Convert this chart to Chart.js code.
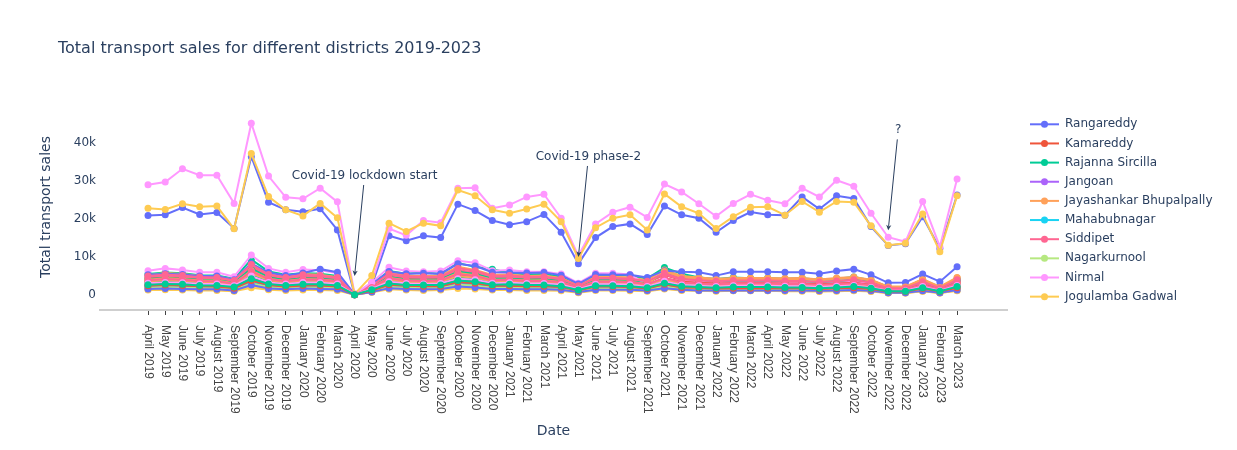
<!DOCTYPE html>
<html>
<head>
<meta charset="utf-8">
<script src="https://cdn.jsdelivr.net/npm/chart.js@4.4.1/dist/chart.umd.min.js"></script>
<style>
html,body{margin:0;padding:0;background:#fff;}
#wrap{position:relative;width:1237px;height:450px;}
</style>
</head>
<body>
<div id="wrap"><canvas id="c"></canvas></div>
<script>
const chartTitle = 'Total transport sales for different districts 2019-2023';
const xTitle = 'Date';
const yTitle = 'Total transport sales';

const months = ['April 2019','May 2019','June 2019','July 2019','August 2019','September 2019','October 2019','November 2019','December 2019','January 2020','February 2020','March 2020',
'April 2020','May 2020','June 2020','July 2020','August 2020','September 2020','October 2020','November 2020','December 2020','January 2021','February 2021','March 2021',
'April 2021','May 2021','June 2021','July 2021','August 2021','September 2021','October 2021','November 2021','December 2021','January 2022','February 2022','March 2022',
'April 2022','May 2022','June 2022','July 2022','August 2022','September 2022','October 2022','November 2022','December 2022','January 2023','February 2023','March 2023'];

const districts = ['Rangareddy','Kamareddy','Rajanna Sircilla','Jangoan','Jayashankar Bhupalpally','Mahabubnagar','Siddipet','Nagarkurnool','Nirmal','Jogulamba Gadwal',
'Hanumakonda','Karimnagar','Khammam','Medak','Mancherial','Nalgonda','Nizamabad','Suryapet','Hyderabad','Medchal-Malkajgiri',
'Sangareddy','Vikarabad','Warangal','Wanaparthy','Peddapalli','Mulugu','Jagtial','Narayanpet','Adilabad','Mahabubabad',
'Kumuram Bheem Asifabad','Bhadradri Kothagudem','Yadadri Bhuvanagiri'];

const rangareddy = [20900,21100,23000,21200,21700,17500,36400,24400,22400,21900,22700,17100,
 100,2500,15600,14300,15600,15100,23900,22200,19600,18500,19300,21200,
 16500,8200,15100,18000,18700,15900,23400,21100,20200,16500,19600,21800,
 21100,21000,25800,22600,26100,25400,18000,13000,13500,20600,12200,26300];
const kamareddy = [4500,4900,4600,4200,4300,3400,7200,4800,4100,4700,4500,4200,
 150,2300,5000,4300,4300,4400,6200,5700,4400,4600,4300,4400,
 3800,2100,4000,4100,3900,3300,5300,3900,3500,3200,3400,3500,
 3400,3300,3400,3100,3300,3600,3000,1600,1700,3100,1600,3600];
const rajannaSircilla = [5500,5900,5700,5200,5100,4300,9300,6200,5300,5800,5600,5000,
 200,2800,6300,5600,5900,5500,8400,7400,6800,5800,5400,5500,
 4800,2600,5300,5200,5100,4300,7200,5600,4600,4200,4600,4400,
 4500,4300,4400,4000,4300,4700,3900,2100,2000,4100,2000,4200];
const jangoan = [3000,3200,3100,2800,2800,2300,4700,3200,2800,3100,3100,2800,
 100,1500,3300,2900,2800,2900,4200,3800,3000,3000,2900,2900,
 2600,1400,2700,2700,2600,2200,3400,2500,2300,2100,2300,2300,
 2200,2200,2200,2000,2200,2400,2000,1100,1100,2100,1100,2400];
const jayashankarBhupalpally = [5200,5800,5500,5000,4900,4000,8000,5600,4900,5500,5300,4700,
 150,2600,5900,5100,5000,5100,7400,6600,5300,5400,5000,5100,
 4500,2500,4800,4800,4600,3900,6600,5000,4600,4300,4500,4500,
 4500,4400,4500,4100,4500,4700,4000,2200,2200,4200,2200,4600];
const mahabubnagar = [3300,3500,3400,3100,3100,2500,5300,3600,3100,3500,3400,3000,
 100,1700,3700,3200,3100,3200,4600,4200,3300,3400,3200,3200,
 2800,1600,3000,3000,2800,2400,3800,2800,2600,2400,2500,2500,
 2500,2400,2400,2200,2400,2600,2200,1200,1200,2300,1200,2600];
const siddipet = [4700,5000,4800,4400,4400,3600,7600,5100,4400,4900,4800,4300,
 150,2300,5200,4600,4500,4600,6500,6000,4700,4800,4500,4600,
 4000,2200,4200,4200,4000,3400,5400,4000,3700,3400,3600,3600,
 3600,3500,3500,3200,3500,3800,3100,1700,1700,3300,1700,3800];
const nagarkurnool = [3000,3200,3100,2900,2800,2300,4900,3300,2800,3200,3100,2800,
 100,1500,3400,3000,2900,3000,4200,3900,3000,3100,2900,2900,
 2600,1500,2800,2800,2700,2300,3600,3100,3000,2800,3000,3000,
 3100,3000,3000,2800,2900,3100,2600,1300,1300,2600,1300,2800];
const nirmal = [6400,7000,6600,6000,6000,4800,10500,7000,6000,6700,6500,5800,
 200,3200,7300,6300,6100,6300,9000,8500,6400,6600,6100,6100,
 5500,3100,5700,5700,5400,2600,4300,3600,3400,3200,3300,3300,
 3300,3200,3200,3000,3200,3400,2900,1600,1600,3000,1500,3200];
const jogulambaGadwal = [1300,1400,1300,1200,1200,1000,1900,1400,1200,1300,1300,1200,
 50,700,1500,1300,1200,1300,1700,1600,1300,1300,1200,1200,
 1100,600,1200,1200,1100,1000,1600,1200,1100,1000,1100,1100,
 1100,1000,1000,900,1000,1100,900,500,500,1000,500,1100];
const hanumakonda = [5300,5600,5400,5000,5000,4000,8300,5900,5100,5800,6800,6000,
 150,2800,6200,5600,5700,5600,8200,7600,6000,5900,5800,5900,
 5200,2900,5400,5300,5300,4600,6400,6100,6000,5100,6100,6100,
 6100,6000,6000,5600,6300,6800,5300,3200,3300,5500,3500,7400];
const karimnagar = [3800,4100,3900,3600,3500,2900,6100,4100,3500,4000,3900,3500,
 100,1900,4300,3700,3600,3700,5300,4900,3800,3900,3600,3600,
 3300,1800,3400,3400,3300,2700,4400,3500,3200,3000,3100,3100,
 3100,3000,3000,2800,3000,3200,2700,1500,1500,2800,1500,3200];
const khammam = [4200,4500,4300,4000,3900,3200,6900,4600,3900,4400,4300,3900,
 100,2100,4700,4100,4000,4100,6100,5500,4300,4300,4000,4100,
 3600,2000,3800,3800,3600,3100,6000,4500,4000,3700,3800,3800,
 3800,3700,3700,3400,3700,4100,3400,1800,1800,3600,1800,4000];
const medak = [2100,2300,2200,2000,2000,1600,3400,2300,2000,2200,2200,1900,
 80,1000,2400,2100,2000,2000,2900,2700,2100,2100,2000,2000,
 1800,1000,1900,1900,1800,1500,2400,1800,1600,1500,1600,1600,
 1600,1600,1600,1400,1600,1700,1400,800,800,1500,800,1700];
const mancherial = [4000,4400,4200,3800,3800,3100,6400,4300,3700,4200,4100,3700,
 100,2000,4500,3900,3800,3900,5800,5200,4000,4100,3800,3900,
 3400,1900,3600,3600,3500,2900,6200,4600,4300,4000,4200,4300,
 4200,4200,4300,3900,4300,4500,3800,2100,2100,4000,2000,4500];
const nalgonda = [2500,2700,2600,2400,2300,1900,4000,2700,2300,2600,2600,2300,
 80,1300,2800,2400,2400,2400,3500,3200,2500,2600,2400,2400,
 2200,1200,2300,2300,2200,1800,2900,2100,2000,1800,1900,1900,
 1900,1900,1900,1700,1900,2000,1700,900,900,1800,900,2000];
const nizamabad = [5000,5400,5100,4700,4600,3800,8000,5400,4600,5300,5100,4600,
 150,2500,5600,4900,4800,4800,7000,6400,5000,5100,4800,4800,
 4300,2400,4500,4500,4300,3600,5700,4200,3900,3600,3800,3800,
 3800,3700,3700,3400,3700,4000,3300,1800,1800,3500,1800,4000];
const suryapet = [3400,3700,3500,3200,3200,2600,5400,3700,3200,3600,3500,3100,
 100,1700,3800,3300,3200,3300,4800,4400,3400,3500,3300,3300,
 2900,1600,3100,3100,2900,2400,3900,2900,2700,2500,2600,2600,
 2600,2500,2500,2300,2500,2700,2200,1200,1200,2400,1200,2700];
const hyderabad = [29000,29700,33200,31500,31500,24100,45200,31300,25700,25300,28100,24500,
 300,3300,17500,15700,19600,19000,28100,28200,22800,23700,25800,26500,
 20200,10300,18700,21800,23100,20400,29200,27100,24000,20700,24100,26500,
 24900,24000,28100,25800,30200,28600,21500,15200,14000,24600,12700,30500];
const medchalMalkajgiri = [22800,22500,24000,23200,23400,17400,37200,25900,22400,20800,24100,20300,
 200,5100,18900,16700,18900,18200,27600,26100,22400,21500,22600,23900,
 19300,9600,17700,20200,21100,17100,26600,23200,21500,17500,20600,23100,
 23200,21000,24600,21800,24600,24400,18200,13100,13600,21300,11400,26100];
const sangareddy = [2300,2500,2400,2200,2100,1800,3700,2500,2100,2400,2400,2100,
 80,1200,2600,2300,2200,2200,3200,2900,2300,2300,2200,2200,
 2000,1100,2100,2100,2000,1700,2600,2000,1800,1700,1700,1700,
 1700,1700,1700,1600,1700,1800,1500,800,800,1600,800,1800];
const vikarabad = [2800,3000,2900,2600,2600,2100,4500,3000,2600,2900,2900,2600,
 90,1400,3100,2700,2700,2700,3900,3600,2800,2900,2700,2700,
 2400,1300,2500,2500,2400,2000,3200,2400,2200,2000,2100,2100,
 2100,2100,2100,1900,2100,2200,1800,1000,1000,2000,1000,2200];
const warangal = [3200,3500,3300,3000,3000,2400,5100,3500,3000,3400,3300,2900,
 100,1600,3600,3100,3000,3100,4500,4100,3200,3300,3100,3100,
 2800,1500,2900,2900,2800,2300,3700,2700,2500,2300,2400,2400,
 2400,2400,2400,2200,2400,2600,2100,1200,1200,2200,1200,2600];
const wanaparthy = [1800,1900,1800,1700,1700,1400,2900,1900,1700,1900,1900,1700,
 60,900,2000,1800,1700,1700,2500,2300,1800,1800,1700,1700,
 1500,900,1600,1600,1500,1300,2100,1500,1400,1300,1400,1400,
 1400,1300,1300,1200,1300,1400,1200,600,600,1300,600,1400];
const peddapalli = [3600,3900,3700,3400,3300,2700,5800,3900,3300,3800,3700,3300,
 100,1800,4000,3500,3400,3500,5000,4600,3600,3700,3500,3500,
 3100,1700,3200,3200,3100,2600,4100,3100,2800,2600,2700,2700,
 2700,2700,2700,2400,2700,2900,2400,1300,1300,2500,1300,2900];
const mulugu = [2000,2200,2000,1900,1900,1500,3200,2200,1900,2100,2100,1800,
 70,1000,2200,2000,1900,1900,2800,2600,2000,2000,1900,1900,
 1700,1000,1800,1800,1700,1400,2300,1700,1600,1400,1500,1500,
 1500,1500,1500,1400,1500,1600,1300,700,700,1400,700,1600];
const jagtial = [3900,4200,4000,3700,3600,3000,6200,4200,3600,4100,4000,3600,
 100,2000,4400,3800,3700,3800,5500,5000,3900,4000,3700,3700,
 3400,1900,3500,3500,3400,2800,4500,3300,3000,2800,3000,3000,
 3000,2900,2900,2700,2900,3100,2600,1400,1400,2700,1400,3100];
const narayanpet = [1900,2100,1900,1800,1800,1400,3000,2100,1800,2000,2000,1700,
 60,1000,2100,1900,1800,1800,2700,2400,1900,1900,1800,1800,
 1600,900,1700,1700,1600,1400,2200,1600,1500,1400,1400,1400,
 1400,1400,1400,1300,1400,1500,1300,700,700,1300,700,1500];
const adilabad = [3100,3300,3200,2900,2900,2400,5000,3300,2900,3300,3200,2900,
 100,1600,3500,3000,2900,3000,4300,4000,3100,3200,3000,3000,
 2700,1500,2800,2800,2700,2200,3600,2600,2400,2200,2400,2400,
 2400,2300,2300,2100,2300,2500,2000,1100,1100,2200,1100,2500];
const mahabubabad = [1500,1600,1500,1400,1400,1100,2400,1600,1400,1600,1500,1400,
 50,800,1700,1500,1400,1500,2100,1900,1500,1500,1400,1400,
 1300,700,1400,1400,1300,1100,1700,1300,1200,1100,1100,1100,
 1100,1100,1100,1000,1100,1200,1000,500,500,1000,500,1200];
const kumuramBheemAsifabad = [1600,1700,1600,1500,1500,1200,2600,1700,1500,1700,1600,1500,
 50,800,1800,1600,1500,1600,2200,2000,1600,1600,1500,1500,
 1400,800,1400,1400,1400,1200,1800,1400,1200,1200,1200,1200,
 1200,1200,1200,1100,1200,1300,1100,600,600,1100,600,1300];
const bhadradriKothagudem = [2400,2600,2500,2300,2200,1800,3800,2600,2200,2500,2500,2200,
 80,1200,2700,2400,2300,2300,3400,3100,2400,2400,2300,2300,
 2100,1200,2200,2200,2100,1700,2800,2000,1900,1700,1800,1800,
 1800,1800,1800,1600,1800,1900,1600,900,900,1700,900,1900];
const yadadriBhuvanagiri = [2700,2900,2800,2500,2500,2100,4300,2900,2500,2800,2800,2500,
 80,1400,3000,2600,2600,2600,3800,3500,2700,2800,2600,2600,
 2300,1300,2400,2400,2300,1900,3100,2300,2100,1900,2100,2100,
 2100,2000,2000,1800,2000,2200,1800,1000,1000,1900,1000,2200];

const seriesValues = [rangareddy,kamareddy,rajannaSircilla,jangoan,jayashankarBhupalpally,mahabubnagar,siddipet,nagarkurnool,nirmal,jogulambaGadwal,
 hanumakonda,karimnagar,khammam,medak,mancherial,nalgonda,nizamabad,suryapet,hyderabad,medchalMalkajgiri,
 sangareddy,vikarabad,warangal,wanaparthy,peddapalli,mulugu,jagtial,narayanpet,adilabad,mahabubabad,
 kumuramBheemAsifabad,bhadradriKothagudem,yadadriBhuvanagiri];

const yTickValues = [0,10000,20000,30000,40000];

const annotationTexts = ['Covid-19 lockdown start','Covid-19 phase-2','?'];
const annotationMonths = ['April 2020','May 2021','November 2022'];
const annotationValues = [5000,10000,17000];

// ---- styling ----
const palette = ['#636efa','#EF553B','#00cc96','#ab63fa','#FFA15A','#19d3f3','#FF6692','#B6E880','#FF97FF','#FECB52'];
const textColor = '#2a3f5f';
const mainFont = '"DejaVu Sans", Verdana, sans-serif';
const legendCount = 10;

const datasets = districts.map((name, i) => {
  const col = palette[i % palette.length];
  return {
    label: name,
    data: seriesValues[i].map((v, j) => ({x: j, y: v})),
    borderColor: col,
    backgroundColor: col,
    pointBackgroundColor: col,
    pointBorderWidth: 0,
    pointRadius: 3.5,
    borderWidth: 2,
    tension: 0,
    order: districts.length - i
  };
});

const deco = {
  id: 'deco',
  afterDraw(chart) {
    const ctx = chart.ctx, xs = chart.scales.x, ys = chart.scales.y, ca = chart.chartArea;
    ctx.save();
    // title
    ctx.fillStyle = textColor;
    ctx.font = '16px ' + mainFont;
    ctx.textAlign = 'left';
    ctx.textBaseline = 'middle';
    ctx.fillText(chartTitle, 58, 49);
    // y axis title
    ctx.save();
    ctx.translate(46, (ca.top + ca.bottom) / 2 + 2);
    ctx.rotate(-Math.PI / 2);
    ctx.font = '14px ' + mainFont;
    ctx.textAlign = 'center';
    ctx.textBaseline = 'middle';
    ctx.fillText(yTitle, 0, 0);
    ctx.restore();
    // x axis title
    ctx.font = '14px ' + mainFont;
    ctx.textAlign = 'center';
    ctx.textBaseline = 'middle';
    ctx.fillText(xTitle, (ca.left + ca.right) / 2, 431);
    // x tick labels, rotated clockwise
    ctx.font = '12px "Liberation Sans", Arial, sans-serif';
    ctx.fillStyle = '#444';
    months.forEach((m, i) => {
      const x = xs.getPixelForValue(i);
      ctx.save();
      ctx.translate(x, ca.bottom + 15);
      ctx.rotate(Math.PI / 2);
      ctx.textAlign = 'left';
      ctx.textBaseline = 'middle';
      ctx.fillText(m, 0, 0);
      ctx.restore();
    });
    // annotations
    ctx.font = '12px ' + mainFont;
    ctx.fillStyle = textColor;
    ctx.strokeStyle = textColor;
    ctx.lineWidth = 1;
    annotationTexts.forEach((t, k) => {
      const tx = xs.getPixelForValue(months.indexOf(annotationMonths[k]));
      const ty = ys.getPixelForValue(annotationValues[k]);
      const cx = tx + 10, cy = ty - 100;
      ctx.textAlign = 'center';
      ctx.textBaseline = 'middle';
      ctx.fillText(t, cx, cy);
      const sx = cx - 0.9, sy = cy + 9;
      const ang = Math.atan2(ty - sy, tx - sx);
      ctx.beginPath();
      ctx.moveTo(sx, sy);
      ctx.lineTo(tx - 4 * Math.cos(ang), ty - 4 * Math.sin(ang));
      ctx.stroke();
      ctx.beginPath();
      ctx.moveTo(tx, ty);
      ctx.lineTo(tx - 6 * Math.cos(ang - 0.45), ty - 6 * Math.sin(ang - 0.45));
      ctx.lineTo(tx - 4 * Math.cos(ang), ty - 4 * Math.sin(ang));
      ctx.lineTo(tx - 6 * Math.cos(ang + 0.45), ty - 6 * Math.sin(ang + 0.45));
      ctx.closePath();
      ctx.fill();
    });
    // legend (first entries, as shown in the reference)
    ctx.font = '12px ' + mainFont;
    for (let i = 0; i < legendCount; i++) {
      const ds = chart.data.datasets[i];
      const y = 124.3 + i * 19.15;
      ctx.strokeStyle = ds.borderColor;
      ctx.lineWidth = 2;
      ctx.beginPath();
      ctx.moveTo(1030, y);
      ctx.lineTo(1059, y);
      ctx.stroke();
      ctx.fillStyle = ds.borderColor;
      ctx.beginPath();
      ctx.arc(1044.5, y, 3.5, 0, Math.PI * 2);
      ctx.fill();
      ctx.fillStyle = textColor;
      ctx.textAlign = 'left';
      ctx.textBaseline = 'middle';
      ctx.fillText(ds.label, 1065, y);
    }
    ctx.restore();
  }
};

new Chart(document.getElementById('c'), {
  type: 'line',
  data: { datasets },
  options: {
    responsive: true,
    maintainAspectRatio: false,
    animation: false,
    layout: { padding: { top: 100, right: 230, left: 0, bottom: 0 } },
    plugins: { legend: { display: false }, title: { display: false }, tooltip: { enabled: false } },
    scales: {
      x: {
        type: 'linear',
        min: -2.79,
        max: 49.9,
        afterBuildTicks: ax => { ax.ticks = months.map((m, i) => ({ value: i })); },
        afterFit: ax => { ax.height = 140; },
        ticks: { display: false },
        grid: { display: true, drawOnChartArea: false, drawTicks: true, tickLength: 5, tickColor: '#444', tickWidth: 1 },
        border: { display: true, color: '#cfcfcf', width: 2 }
      },
      y: {
        type: 'linear',
        min: -3950,
        max: 51300,
        afterBuildTicks: ax => { ax.ticks = yTickValues.map(v => ({ value: v })); },
        afterFit: ax => { ax.width = 100; },
        ticks: {
          padding: 4,
          color: textColor,
          font: { family: mainFont, size: 12 },
          callback: v => v === 0 ? '0' : (v / 1000) + 'k'
        },
        grid: { display: false, drawTicks: false },
        border: { display: false }
      }
    }
  },
  plugins: [deco]
});
</script>
</body>
</html>
